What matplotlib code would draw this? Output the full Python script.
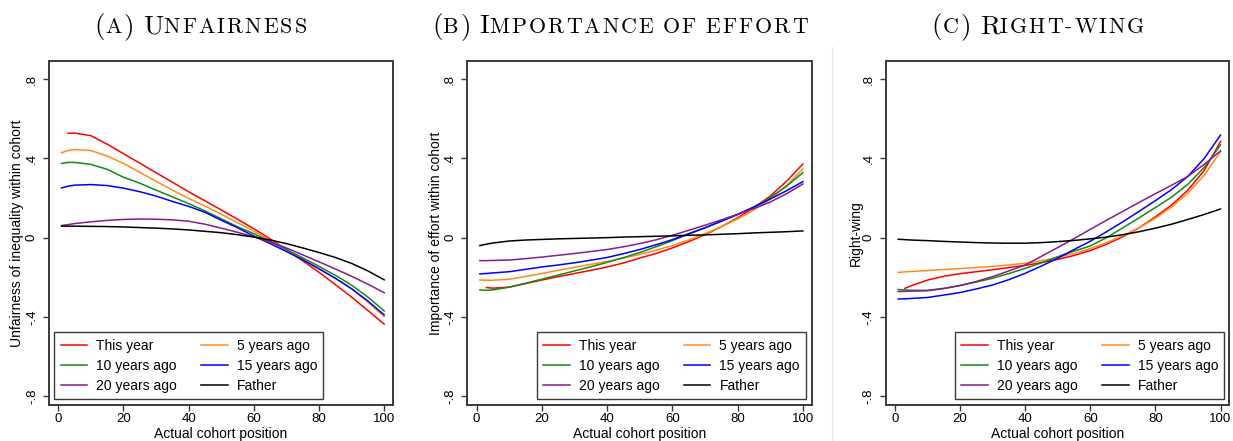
import numpy as np
import matplotlib
matplotlib.use("Agg")
import matplotlib.pyplot as plt
from matplotlib.lines import Line2D

# ---------------- data ----------------
x_pos = [1, 3, 5, 10, 15, 20, 25, 30, 35, 40, 45, 50, 55, 60, 65, 70, 75, 80, 85, 90, 95, 100]
series_labels = ["This year", "5 years ago", "10 years ago", "15 years ago", "20 years ago", "Father"]

unfair_this = [np.nan, 0.527, 0.528, 0.515, 0.472, 0.424, 0.376, 0.328, 0.28, 0.232, 0.186, 0.14, 0.093, 0.045, -0.006, -0.06, -0.117, -0.175, -0.237, -0.30, -0.368, -0.437]
unfair_5 = [0.429, 0.44, 0.445, 0.44, 0.412, 0.375, 0.33, 0.285, 0.24, 0.198, 0.16, 0.118, 0.075, 0.033, -0.014, -0.062, -0.11, -0.158, -0.205, -0.258, -0.325, -0.399]
unfair_10 = [0.375, 0.38, 0.38, 0.37, 0.345, 0.305, 0.275, 0.24, 0.206, 0.172, 0.135, 0.095, 0.055, 0.02, -0.02, -0.06, -0.102, -0.145, -0.19, -0.24, -0.30, -0.370]
unfair_15 = [0.251, 0.26, 0.265, 0.268, 0.263, 0.25, 0.232, 0.21, 0.183, 0.158, 0.128, 0.088, 0.05, 0.008, -0.03, -0.07, -0.112, -0.157, -0.205, -0.258, -0.32, -0.390]
unfair_20 = [0.061, 0.066, 0.071, 0.08, 0.087, 0.092, 0.094, 0.093, 0.09, 0.083, 0.068, 0.048, 0.027, 0.004, -0.022, -0.052, -0.087, -0.122, -0.158, -0.195, -0.235, -0.278]
unfair_father = [0.058, 0.058, 0.058, 0.057, 0.056, 0.054, 0.051, 0.048, 0.044, 0.039, 0.032, 0.025, 0.015, 0.003, -0.012, -0.03, -0.052, -0.075, -0.10, -0.13, -0.168, -0.213]

effort_this = [np.nan, -0.252, -0.255, -0.25, -0.232, -0.214, -0.197, -0.181, -0.165, -0.148, -0.128, -0.103, -0.08, -0.052, -0.02, 0.015, 0.055, 0.10, 0.152, 0.21, 0.285, 0.372]
effort_5 = [-0.214, -0.215, -0.215, -0.21, -0.196, -0.181, -0.165, -0.15, -0.135, -0.12, -0.103, -0.085, -0.063, -0.04, -0.012, 0.02, 0.055, 0.095, 0.14, 0.195, 0.262, 0.347]
effort_10 = [-0.264, -0.266, -0.264, -0.25, -0.23, -0.21, -0.189, -0.168, -0.147, -0.125, -0.101, -0.075, -0.046, -0.015, 0.018, 0.05, 0.083, 0.118, 0.155, 0.203, 0.26, 0.328]
effort_15 = [-0.183, -0.181, -0.178, -0.172, -0.16, -0.148, -0.138, -0.127, -0.114, -0.10, -0.081, -0.06, -0.036, -0.01, 0.02, 0.05, 0.083, 0.117, 0.155, 0.195, 0.237, 0.283]
effort_20 = [-0.116, -0.116, -0.115, -0.113, -0.106, -0.098, -0.089, -0.08, -0.07, -0.06, -0.046, -0.03, -0.011, 0.012, 0.037, 0.063, 0.09, 0.118, 0.147, 0.18, 0.222, 0.271]
effort_father = [-0.040, -0.033, -0.027, -0.017, -0.012, -0.009, -0.006, -0.004, -0.002, 0.0, 0.003, 0.005, 0.007, 0.009, 0.012, 0.014, 0.017, 0.02, 0.024, 0.027, 0.03, 0.034]

right_this = [np.nan, -0.256, -0.243, -0.214, -0.195, -0.182, -0.172, -0.162, -0.151, -0.14, -0.126, -0.11, -0.09, -0.065, -0.033, 0.005, 0.05, 0.105, 0.165, 0.24, 0.34, 0.485]
right_5 = [-0.175, -0.173, -0.171, -0.166, -0.161, -0.156, -0.151, -0.145, -0.138, -0.129, -0.117, -0.10, -0.08, -0.055, -0.025, 0.01, 0.05, 0.098, 0.155, 0.225, 0.315, 0.434]
right_10 = [-0.262, -0.264, -0.266, -0.266, -0.256, -0.241, -0.224, -0.205, -0.181, -0.155, -0.127, -0.096, -0.068, -0.042, 0.0, 0.05, 0.10, 0.152, 0.205, 0.27, 0.355, 0.468]
right_15 = [-0.31, -0.309, -0.307, -0.302, -0.29, -0.277, -0.259, -0.239, -0.212, -0.18, -0.143, -0.104, -0.06, -0.018, 0.03, 0.08, 0.133, 0.187, 0.243, 0.31, 0.40, 0.518]
right_20 = [-0.272, -0.271, -0.27, -0.268, -0.257, -0.242, -0.221, -0.197, -0.168, -0.138, -0.094, -0.05, -0.005, 0.042, 0.088, 0.133, 0.178, 0.222, 0.265, 0.31, 0.37, 0.438]
right_father = [-0.008, -0.01, -0.012, -0.015, -0.019, -0.022, -0.025, -0.027, -0.028, -0.028, -0.025, -0.02, -0.014, -0.006, 0.003, 0.015, 0.03, 0.048, 0.068, 0.092, 0.117, 0.145]

x_ticks = [0, 20, 40, 60, 80, 100]
y_ticks = [-0.8, -0.4, 0, 0.4, 0.8]
y_ticklabels = ["-.8", "-.4", "0", ".4", ".8"]
x_label = "Actual cohort position"
y_labels = ["Unfairness of inequality within cohort", "Importance of effort within cohort", "Right-wing"]

colors = ["#ff0000", "#ff8c1a", "#138a13", "#0000ff", "#8b1a8b", "#000000"]

panels = [
    [unfair_this, unfair_5, unfair_10, unfair_15, unfair_20, unfair_father],
    [effort_this, effort_5, effort_10, effort_15, effort_20, effort_father],
    [right_this, right_5, right_10, right_15, right_20, right_father],
]

# ---------------- figure ----------------
plt.rcParams["font.family"] = ["Liberation Sans", "DejaVu Sans"]
W, H = 1233, 441
fig = plt.figure(figsize=(W / 100, H / 100), dpi=100)

ax_px = [(49, 393), (467.3, 811.7), (885.7, 1229.3)]
top_px, bot_px = 61, 405
ylabel_x = [-0.073, -0.0697, -0.065]
legend_cfg = [("lower left", (0.0154, 0.0174)), ("lower right", (0.984, 0.0174)), ("lower right", (0.9855, 0.0174))]
frame_col = "#3a3a3a"
legend_order = [0, 2, 4, 1, 3, 5]  # row-wise filling with two columns

for i, (l, r) in enumerate(ax_px):
    ax = fig.add_axes([l / W, (H - bot_px) / H, (r - l) / W, (bot_px - top_px) / H])
    lines = []
    for s, c, lab in zip(panels[i], colors, series_labels):
        ln, = ax.plot(x_pos, s, color=c, lw=1.1, label=lab)
        lines.append(ln)
    ax.set_xlim(-2.85, 102.7)
    ax.set_ylim(-0.845, 0.892)
    ax.set_xticks(x_ticks)
    ax.set_xticklabels([str(t) for t in x_ticks])
    ax.set_yticks(y_ticks)
    ax.set_yticklabels(y_ticklabels, rotation=90, va="center")
    ax.tick_params(axis="both", direction="out", length=4, width=1.0, color=frame_col,
                   labelsize=9.5, labelcolor="black")
    ax.tick_params(axis="x", pad=1.5)
    ax.tick_params(axis="y", pad=4)
    for sp in ax.spines.values():
        sp.set_color(frame_col)
        sp.set_linewidth(1.4)
    ax.set_xlabel(x_label, fontsize=10, labelpad=1.5)
    ax.set_ylabel(y_labels[i], fontsize=10)
    ax.yaxis.set_label_coords(ylabel_x[i], 0.5)
    loc, anchor = legend_cfg[i]
    hs = [lines[k] for k in legend_order]
    leg = ax.legend(hs, [series_labels[k] for k in legend_order], loc=loc, bbox_to_anchor=anchor,
                    ncol=2, fontsize=10, frameon=True,
                    fancybox=False, borderaxespad=0, handlelength=1.92, handletextpad=0.65,
                    columnspacing=1.73, labelspacing=0.44, borderpad=0.45)
    leg.get_frame().set_edgecolor(frame_col)
    leg.get_frame().set_linewidth(1.0)
    leg.get_frame().set_alpha(1)
    for h in leg.get_lines():
        h.set_linewidth(1.1)

# vertical separator
fig.add_artist(Line2D([832 / W, 832 / W], [0, 1 - 47 / H], transform=fig.transFigure,
                      color="#e6e6e6", lw=0.8))

# ---------------- small-caps titles ----------------
big, small = 19.5, 15.8
track = 2.0  # extra px after each small-caps letter
title_parts = [
    [("(", big), ("A", small), (")", big), (" ", big), ("U", big), ("NFAIRNESS", small)],
    [("(", big), ("B", small), (")", big), (" ", big), ("I", big), ("MPORTANCE", small), (" ", small),
     ("OF", small), (" ", small), ("EFFORT", small)],
    [("(", big), ("C", small), (")", big), (" ", big), ("R", big), ("IGHT-WING", small)],
]
title_cx = [201.7, 621, 1039]
title_base = 33.3

renderer = fig.canvas.get_renderer()
for parts, cx in zip(title_parts, title_cx):
    glyphs = []  # (text_obj or None, advance)
    for txt, sz in parts:
        if txt == " ":
            glyphs.append((None, 0.333 * sz * 100 / 72))
            continue
        if sz == small:
            for ch in txt:
                t = fig.text(0, 1 - title_base / H, ch, fontsize=sz, family="cmr10",
                             va="baseline", ha="left")
                glyphs.append((t, t.get_window_extent(renderer).width + track))
        else:
            t = fig.text(0, 1 - title_base / H, txt, fontsize=sz, family="cmr10",
                         va="baseline", ha="left")
            glyphs.append((t, t.get_window_extent(renderer).width))
    total = sum(w for _, w in glyphs)
    xcur = cx - total / 2
    for o, w in glyphs:
        if o is not None:
            o.set_x(xcur / W)
        xcur += w

fig.savefig("out.png", dpi=100)
